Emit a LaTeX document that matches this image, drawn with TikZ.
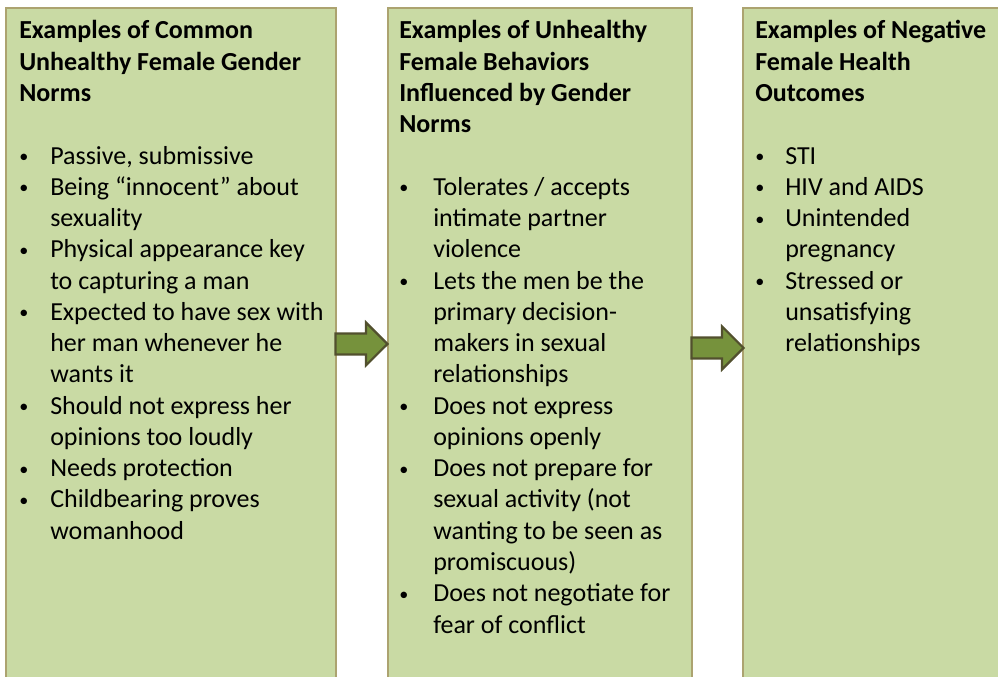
\documentclass[tikz,border=0pt]{standalone}
\usepackage{fontspec}
\setmainfont{Carlito}
\usepackage{tikz}
\usetikzlibrary{shapes.arrows}
\definecolor{boxgreen}{RGB}{201,218,164}
\definecolor{boxedge}{RGB}{172,163,112}
\definecolor{arrowgreen}{RGB}{118,146,60}
\definecolor{arrowedge}{RGB}{82,80,46}
\newcommand{\headline}[1]{\multicolumn{2}{@{}l@{}}{\bfseries #1}}
\newcommand{\bul}{\raisebox{0.06em}{\scalebox{0.7}{•}}}
\newcommand{\drawboxtext}[2]{\begin{tabular}[t]{@{}p{#1}@{}l@{}}#2\end{tabular}}

\begin{document}
\begin{tikzpicture}[x=0.75pt,y=0.75pt,
    colbox/.style={draw=boxedge,fill=boxgreen,line width=0.9pt},
    boxtext/.style={anchor=base west,inner sep=0pt,align=left,
      font=\fontsize{19.5}{23.45}\selectfont},
    blockarrow/.style={single arrow,anchor=tip,draw=arrowedge,fill=arrowgreen,line width=1.6pt,
      inner xsep=0pt,inner ysep=7.1pt,minimum height=39pt,
      single arrow head extend=8.25pt,single arrow head indent=0pt}]
      \useasboundingbox (0,0) rectangle (998,677);
      \draw[colbox] (6,669) rectangle (336,-6);      % norms
      \draw[colbox] (388,669) rectangle (692,-6);    % behaviors
      \draw[colbox] (743,669) rectangle (1004,-6);   % outcomes

      \node[boxtext] (normsText) at (19,638) {\drawboxtext{23.25pt}{%
        \headline{Examples of Common}\\
        \headline{Unhealthy Female Gender}\\
        \headline{Norms}\\
        &\\
        \bul & Passive, submissive\\
        \bul & Being “innocent” about\\
        & sexuality\\
        \bul & Physical appearance key\\
        & to capturing a man\\
        \bul & Expected to have sex with\\
        & her man whenever he\\
        & wants it\\
        \bul & Should not express her\\
        & opinions too loudly\\
        \bul & Needs protection\\
        \bul & Childbearing proves\\
        & womanhood}};

      \node[boxtext] (behavText) at (399,638) {\drawboxtext{25.5pt}{%
        \headline{Examples of Unhealthy}\\
        \headline{Female Behaviors}\\
        \headline{Influenced by Gender}\\
        \headline{Norms}\\
        &\\
        \bul & Tolerates / accepts\\
        & intimate partner\\
        & violence\\
        \bul & Lets the men be the\\
        & primary decision-\\
        & makers in sexual\\
        & relationships\\
        \bul & Does not express\\
        & opinions openly\\
        \bul & Does not prepare for\\
        & sexual activity (not\\
        & wanting to be seen as\\
        & promiscuous)\\
        \bul & Does not negotiate for\\
        & fear of conflict}};

      \node[boxtext] (outcomeText) at (755,638) {\drawboxtext{22.5pt}{%
        \headline{Examples of Negative}\\
        \headline{Female Health}\\
        \headline{Outcomes}\\
        &\\
        \bul & STI\\
        \bul & HIV and AIDS\\
        \bul & Unintended\\
        & pregnancy\\
        \bul & Stressed or\\
        & unsatisfying\\
        & relationships}};

      \node[blockarrow] (arrowA) at (389,333) {};    % tip on the box edge
      \node[blockarrow] (arrowB) at (745,329) {};
\end{tikzpicture}
\end{document}
